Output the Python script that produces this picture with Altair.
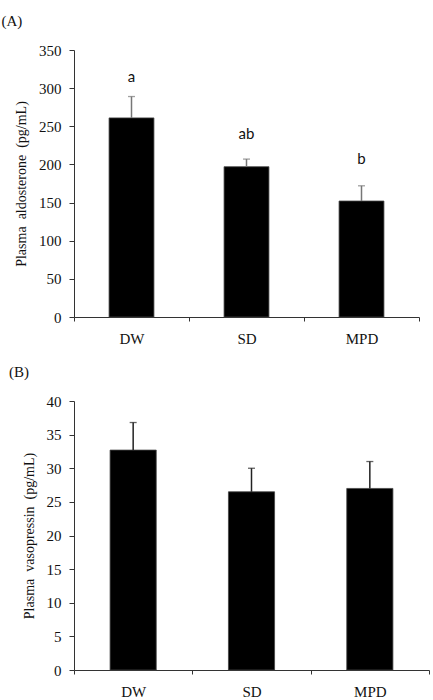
import altair as alt
import pandas as pd

groups = ["DW", "SD", "MPD"]

aldo_mean = [261, 197, 152]
aldo_err = [28, 10, 20]
aldo_letters = ["a", "ab", "b"]
aldo_letter_y = [314, 240, 207]

avp_mean = [32.7, 26.5, 27.0]
avp_err = [4.1, 3.5, 4.0]

aldo_ticks = [0, 50, 100, 150, 200, 250, 300, 350]
avp_ticks = [0, 5, 10, 15, 20, 25, 30, 35, 40]

SERIF = "Liberation Serif"


def panel(means, errs, ymax, ticks, ytitle, ptitle, width, height,
          letters=None, letter_y=None, errcolor="#000"):
    df = pd.DataFrame({
        "group": groups,
        "mean": means,
        "upper": [m + e for m, e in zip(means, errs)],
        "lab": letters if letters is not None else [""] * len(groups),
        "ly": letter_y if letter_y is not None else means,
    })
    xaxis = alt.Axis(tickBand="extent", labelAngle=0, labelPadding=10,
                     labelFont=SERIF, labelFontSize=15, labelColor="#111",
                     domainColor="#333", tickColor="#333", tickSize=4)
    yaxis = alt.Axis(values=ticks, labelOverlap=False, labelFont=SERIF, labelFontSize=15,
                     labelColor="#111", labelPadding=8, tickSize=5, grid=False,
                     domainColor="#333", tickColor="#333",
                     titleFont=SERIF, titleFontSize=14, titleFontWeight="normal",
                     titleColor="#111", titlePadding=10)
    xs = alt.Scale(domain=groups, paddingInner=0, paddingOuter=0)
    ys = alt.Scale(domain=[0, ymax], nice=False)

    def X():
        return alt.X("group:N", sort=groups, title=None, scale=xs, axis=xaxis)

    def Y(field):
        return alt.Y(field, title=ytitle, scale=ys, axis=yaxis)

    base = alt.Chart(df)
    bars = base.mark_bar(color="#000", width=alt.RelativeBandSize(0.39),
                         stroke="#444", strokeWidth=0.8).encode(x=X(), y=Y("mean:Q"))
    rule = base.mark_rule(color=errcolor, strokeWidth=1.5).encode(
        x=X(), y=Y("mean:Q"), y2="upper:Q")
    cap = base.mark_tick(color=errcolor, size=7, thickness=1.3).encode(x=X(), y=Y("upper:Q"))
    layers = [bars, rule, cap]
    if letters is not None:
        txt = base.mark_text(font="Lato", fontSize=15, color="#111", baseline="middle").encode(
            x=X(), y=Y("ly:Q"), text="lab:N")
        layers.append(txt)
    return alt.layer(*layers).properties(
        width=width, height=height,
        title=alt.TitleParams(ptitle, anchor="start", frame="bounds", dx=-13, offset=14,
                              font=SERIF, fontSize=15, fontWeight="normal", color="#111"))


a = panel(aldo_mean, aldo_err, 350, aldo_ticks,
          "Plasma\u00a0 aldosterone\u00a0 (pg/mL)", "(A)", 345, 267,
          aldo_letters, aldo_letter_y, errcolor="#777")
b = panel(avp_mean, avp_err, 40, avp_ticks,
          "Plasma\u00a0 vasopressin\u00a0 (pg/mL)", "(B)", 355, 269, errcolor="#222")

chart = alt.concat(a, b, columns=1, align="none", spacing=19).properties(
    padding={"left": 1, "top": 14, "right": 0, "bottom": 0},
    background="white",
).configure_view(stroke=None).configure_axis(labelOverlap=False)

chart.save("out.html", embed_options={"renderer": "svg", "actions": False})
